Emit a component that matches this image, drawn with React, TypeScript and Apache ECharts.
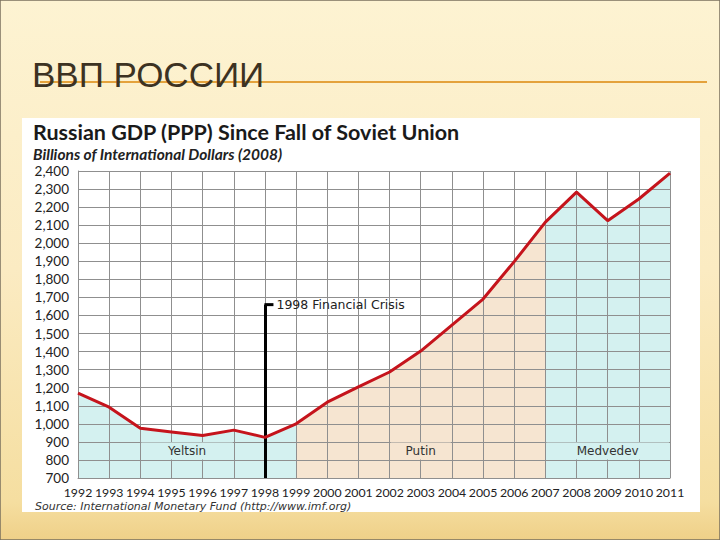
import React, { useEffect, useRef } from "react";
import * as echarts from "echarts";

const years = [1992, 1993, 1994, 1995, 1996, 1997, 1998, 1999, 2000, 2001, 2002, 2003, 2004, 2005, 2006, 2007, 2008, 2009, 2010, 2011];
const gdp = [1170, 1092, 975, 955, 935, 965, 925, 1000, 1120, 1205, 1287, 1403, 1547, 1691, 1898, 2117, 2283, 2125, 2245, 2388];

const eraNames = ["Yeltsin", "Putin", "Medvedev"];
const eraStart = [1992, 1999, 2007];
const eraEnd = [1999, 2007, 2011];
const eraColors = ["#D4F1F0", "#F6E5D1", "#D4F1F0"];
const eraLabelCenter = [1995.5, 2003, 2009];
const eraLabelSpan = [3, 2, 4];
const eraLabelValue = 850;

const crisisYear = 1998;
const crisisTop = 1660;
const crisisLabel = "1998 Financial Crisis";

const slideTitle = "ВВП РОССИИ";
const chartTitle = "Russian GDP (PPP) Since Fall of Soviet Union";
const chartSubtitle = "Billions of International Dollars (2008)";
const sourceText = "Source: International Monetary Fund (http://www.imf.org)";

export default function App() {
  const ref = useRef<HTMLDivElement>(null);
  useEffect(() => {
    if (!ref.current) return;
    const chart = echarts.init(ref.current, undefined, { renderer: "svg" });
    const pts = years.map((y, i) => [y, gdp[i]]);
    const fillSeries = eraNames.map((name, k) => ({
      type: "line",
      name,
      data: pts.filter((p) => p[0] >= eraStart[k] && p[0] <= eraEnd[k]),
      showSymbol: false,
      symbol: "none",
      lineStyle: { width: 0 },
      areaStyle: { color: eraColors[k], opacity: 1 },
      z: 1,
      silent: true,
    }));
    const pxPerYear = (720 - 78 - 50) / (years.length - 1);
    const gridColor = "#8f8f8f";
    chart.setOption({
      animation: false,
      graphic: [
        {
          type: "rect",
          z: -100,
          shape: { x: 0, y: 0, width: 720, height: 540 },
          style: {
            fill: new echarts.graphic.LinearGradient(0, 0, 0, 1, [
              { offset: 0, color: "#FDF3D2" },
              { offset: 0.5, color: "#FBEBC2" },
              { offset: 0.93, color: "#F5DEA0" },
              { offset: 1, color: "#EFD088" },
            ]),
            stroke: "#7a705e",
            lineWidth: 1.5,
          },
        },
        {
          type: "text",
          z: 10,
          style: {
            text: slideTitle,
            x: 32,
            y: 57,
            fill: "#3C3222",
            font: '35px "Liberation Sans", Arial, sans-serif',
            verticalAlign: "top",
          },
        },
        {
          type: "line",
          z: 5,
          shape: { x1: 40, y1: 82, x2: 707, y2: 82 },
          style: { stroke: "#E4A23C", lineWidth: 2 },
        },
        {
          type: "rect",
          z: -50,
          shape: { x: 22, y: 118, width: 678, height: 394 },
          style: { fill: "#FFFFFF" },
        },
        {
          type: "text",
          z: 10,
          style: {
            text: sourceText,
            x: 35,
            y: 506,
            fill: "#333333",
            font: 'italic 11px "DejaVu Sans", sans-serif',
            verticalAlign: "middle",
          },
        },
      ],
      title: {
        text: chartTitle,
        subtext: chartSubtitle,
        left: 33,
        top: 121,
        itemGap: 3,
        padding: 0,
        textStyle: { fontFamily: "Lato", fontWeight: "bold", fontSize: 21.5, color: "#1a1a1a" },
        subtextStyle: { fontFamily: "Lato", fontWeight: "bold", fontStyle: "italic", fontSize: 15.5, color: "#222222" },
      },
      grid: { left: 78, right: 50, top: 171, bottom: 62 },
      xAxis: {
        type: "value",
        z: 2,
        min: years[0],
        max: years[years.length - 1],
        interval: 1,
        axisLine: { show: true, lineStyle: { color: gridColor } },
        axisTick: { show: false },
        splitLine: { show: true, lineStyle: { color: gridColor, width: 1 } },
        axisLabel: {
          formatter: (v: number) => String(v),
          fontFamily: "Lato",
          fontSize: 12.3,
          color: "#222222",
          margin: 8,
        },
      },
      yAxis: {
        type: "value",
        z: 2,
        min: 700,
        max: 2400,
        interval: 100,
        axisLine: { show: true, lineStyle: { color: gridColor } },
        axisTick: { show: false },
        splitLine: { show: true, lineStyle: { color: gridColor, width: 1 } },
        axisLabel: {
          formatter: (v: number) => v.toLocaleString("en-US"),
          fontFamily: "Lato",
          fontSize: 13.5,
          color: "#222222",
          margin: 9,
        },
      },
      series: [
        ...fillSeries,
        {
          type: "line",
          name: "GDP",
          data: pts,
          showSymbol: false,
          symbol: "none",
          z: 5,
          lineStyle: { color: "#C5141C", width: 3 },
          markPoint: {
            silent: true,
            data: eraNames.map((name, k) => ({
              coord: [eraLabelCenter[k], eraLabelValue],
              symbol: "rect",
              symbolSize: 0,
              label: {
                show: true,
                position: "inside",
                formatter: name,
                fontFamily: "DejaVu Sans",
                fontSize: 12,
                color: "#333333",
                backgroundColor: eraColors[k],
                width: eraLabelSpan[k] * pxPerYear - 2,
                height: 17,
                lineHeight: 17,
                align: "center",
                verticalAlign: "middle",
              },
            })),
          },
        },
        {
          type: "line",
          name: "crisis",
          data: [],
          z: 6,
          silent: true,
          markLine: {
            silent: true,
            symbol: "none",
            label: { show: false },
            lineStyle: { color: "#000000", width: 3, type: "solid" },
            data: [[{ coord: [crisisYear, 700] }, { coord: [crisisYear, crisisTop] }]],
          },
          markPoint: {
            silent: true,
            data: [
              {
                coord: [crisisYear, crisisTop],
                symbol: "rect",
                symbolSize: [9, 3],
                symbolOffset: [4, 0],
                itemStyle: { color: "#000000" },
                label: {
                  show: true,
                  position: "right",
                  distance: 3,
                  formatter: crisisLabel,
                  fontFamily: "DejaVu Sans",
                  fontSize: 12.5,
                  color: "#222222",
                },
              },
            ],
          },
        },
      ],
    });
    return () => chart.dispose();
  }, []);
  return (
    <div
      ref={ref}
      style={{ position: "absolute", left: 0, top: 0, width: 720, height: 540 }}
    />
  );
}
